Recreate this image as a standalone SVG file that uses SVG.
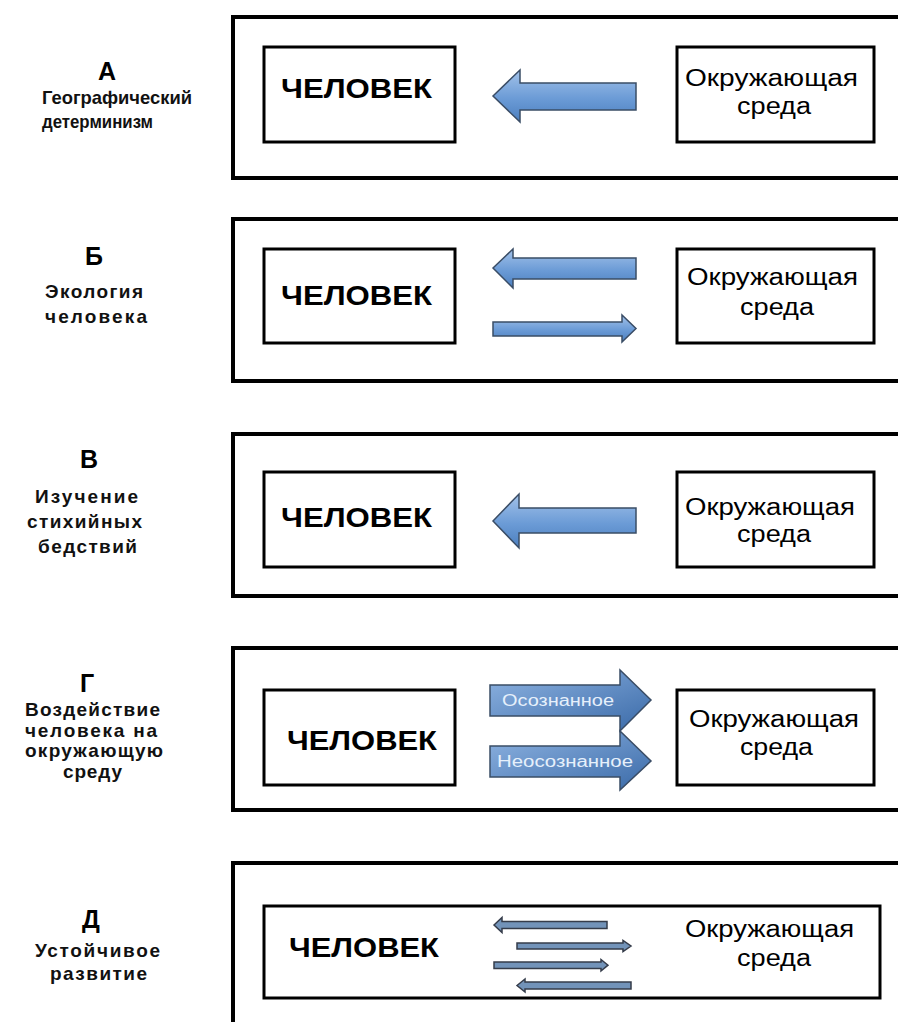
<svg xmlns="http://www.w3.org/2000/svg" width="898" height="1022" viewBox="0 0 898 1022">
<defs>
<linearGradient id="gv" x1="0" y1="0" x2="0" y2="1">
<stop offset="0" stop-color="#a3c2e9"/>
<stop offset="0.55" stop-color="#6b9bd6"/>
<stop offset="1" stop-color="#4c7fbf"/>
</linearGradient>
<linearGradient id="gd" x1="0" y1="0" x2="1" y2="1">
<stop offset="0" stop-color="#8fb4e2"/>
<stop offset="1" stop-color="#3a6aa8"/>
</linearGradient>
<style>
.outer{fill:#fff;stroke:#000;stroke-width:4}
.inner{fill:#fff;stroke:#000;stroke-width:3}
.arr{fill:url(#gv);stroke:#3a4d66;stroke-width:1.5;stroke-linejoin:miter}
.arrg{fill:url(#gd);stroke:#3a4d66;stroke-width:1.5}
.arrd{fill:#7293b9;stroke:#353c4a;stroke-width:1.5}
.man{font-family:"Liberation Sans",Arial,sans-serif;font-weight:bold;font-size:27px;fill:#000}
.env{font-family:"Liberation Sans",Arial,sans-serif;font-size:23px;fill:#000}
.lbl{font-family:"Liberation Sans",Arial,sans-serif;font-weight:bold;font-size:19px;fill:#111}
.big{font-family:"Liberation Sans",Arial,sans-serif;font-weight:bold;font-size:25px;fill:#000;text-anchor:middle}
.atx{font-family:"Liberation Sans",Arial,sans-serif;font-size:16px;fill:#e6f0fb}
</style>
</defs>
<rect width="898" height="1022" fill="#fff"/>

<!-- Panel A -->
<g id="panelA">
<rect class="outer" x="233" y="17" width="680" height="161"/>
<text class="big" x="107" y="80">А</text>
<text class="lbl" x="42" y="104" textLength="150" lengthAdjust="spacingAndGlyphs">Географический</text>
<text class="lbl" x="42" y="128" textLength="111" lengthAdjust="spacingAndGlyphs">детерминизм</text>
</g>
<g id="A-man">
<rect class="inner" x="264" y="47" width="191" height="95"/>
<text class="man" x="281" y="98" textLength="151" lengthAdjust="spacingAndGlyphs">ЧЕЛОВЕК</text>
</g>
<g id="A-env">
<rect class="inner" x="677" y="47" width="197" height="95"/>
<text class="env" x="685" y="86" textLength="173" lengthAdjust="spacingAndGlyphs">Окружающая</text>
<text class="env" x="737" y="114" textLength="74" lengthAdjust="spacingAndGlyphs">среда</text>
</g>

<!-- Panel B -->
<g id="panelB">
<rect class="outer" x="233" y="219" width="680" height="162"/>
<text class="big" x="94" y="265">Б</text>
<text class="lbl" x="45" y="298" textLength="98" lengthAdjust="spacing">Экология</text>
<text class="lbl" x="45" y="323" textLength="102" lengthAdjust="spacing">человека</text>
</g>
<g id="B-man">
<rect class="inner" x="264" y="249" width="191" height="94"/>
<text class="man" x="281" y="305" textLength="151" lengthAdjust="spacingAndGlyphs">ЧЕЛОВЕК</text>
</g>
<g id="B-env">
<rect class="inner" x="677" y="249" width="197" height="94"/>
<text class="env" x="687" y="285" textLength="171" lengthAdjust="spacingAndGlyphs">Окружающая</text>
<text class="env" x="740" y="315" textLength="74" lengthAdjust="spacingAndGlyphs">среда</text>
</g>

<!-- Panel V -->
<g id="panelV">
<rect class="outer" x="233" y="434" width="680" height="162"/>
<text class="big" x="89" y="468">В</text>
<text class="lbl" x="35" y="503" textLength="103" lengthAdjust="spacing">Изучение</text>
<text class="lbl" x="27" y="528" textLength="115" lengthAdjust="spacing">стихийных</text>
<text class="lbl" x="38" y="553" textLength="99" lengthAdjust="spacing">бедствий</text>
</g>
<g id="V-man">
<rect class="inner" x="264" y="472" width="191" height="95"/>
<text class="man" x="281" y="527" textLength="151" lengthAdjust="spacingAndGlyphs">ЧЕЛОВЕК</text>
</g>
<g id="V-env">
<rect class="inner" x="677" y="472" width="197" height="95"/>
<text class="env" x="685" y="515" textLength="170" lengthAdjust="spacingAndGlyphs">Окружающая</text>
<text class="env" x="737" y="542" textLength="74" lengthAdjust="spacingAndGlyphs">среда</text>
</g>

<!-- Panel G -->
<g id="panelG">
<rect class="outer" x="233" y="648" width="680" height="162"/>
<text class="big" x="87" y="692">Г</text>
<text class="lbl" x="25" y="716" textLength="135" lengthAdjust="spacing">Воздействие</text>
<text class="lbl" x="25" y="737" textLength="132" lengthAdjust="spacing">человека на</text>
<text class="lbl" x="25" y="757" textLength="138" lengthAdjust="spacing">окружающую</text>
<text class="lbl" x="63" y="778" textLength="59" lengthAdjust="spacing">среду</text>
</g>
<g id="G-man">
<rect class="inner" x="264" y="690" width="191" height="95"/>
<text class="man" x="287" y="750" textLength="150" lengthAdjust="spacingAndGlyphs">ЧЕЛОВЕК</text>
</g>
<g id="G-env">
<rect class="inner" x="677" y="690" width="197" height="95"/>
<text class="env" x="689" y="727" textLength="170" lengthAdjust="spacingAndGlyphs">Окружающая</text>
<text class="env" x="740" y="755" textLength="73" lengthAdjust="spacingAndGlyphs">среда</text>
</g>

<!-- Panel D -->
<g id="panelD">
<rect class="outer" x="233" y="863" width="680" height="180"/>
<text class="big" x="91" y="928">Д</text>
<text class="lbl" x="35" y="957" textLength="125" lengthAdjust="spacing">Устойчивое</text>
<text class="lbl" x="50" y="980" textLength="97" lengthAdjust="spacing">развитие</text>
</g>
<g id="D-system">
<rect class="inner" x="264" y="906" width="616" height="92"/>
<text class="man" x="289" y="957" textLength="150" lengthAdjust="spacingAndGlyphs">ЧЕЛОВЕК</text>
<text class="env" x="685" y="937" textLength="169" lengthAdjust="spacingAndGlyphs">Окружающая</text>
<text class="env" x="737" y="966" textLength="74" lengthAdjust="spacingAndGlyphs">среда</text>
</g>

<!-- Connectors -->
<g id="connectors">
<path class="arr" d="M493,96 L520,70 L520,83 L636,83 L636,110 L520,110 L520,122 Z"/>
<path class="arr" d="M493,268 L513,249 L513,258 L636,258 L636,279 L513,279 L513,288 Z"/>
<path class="arr" d="M493,322 L622,322 L622,315 L636,328.5 L622,342 L622,336 L493,336 Z"/>
<path class="arr" d="M493,521 L519,494 L519,508 L636,508 L636,533 L519,533 L519,548 Z"/>
<path class="arrg" d="M490,685 L620,685 L620,670 L651,700 L620,731 L620,716 L490,716 Z"/>
<path class="arrg" d="M490,746 L620,746 L620,731 L651,761 L620,790 L620,777 L490,777 Z"/>
<text class="atx" x="502" y="706" textLength="112" lengthAdjust="spacingAndGlyphs">Осознанное</text>
<text class="atx" x="497" y="767" textLength="136" lengthAdjust="spacingAndGlyphs">Неосознанное</text>
<path class="arrd" d="M494,925 L502,917.5 L502,921.5 L607,921.5 L607,928.5 L502,928.5 L502,932.5 Z"/>
<path class="arrd" d="M517,943 L623,943 L623,940.5 L631,946 L623,951.5 L623,949 L517,949 Z"/>
<path class="arrd" d="M494,962 L601,962 L601,959.5 L608,965.2 L601,971 L601,968.5 L494,968.5 Z"/>
<path class="arrd" d="M517,985.5 L525,979 L525,982 L631,982 L631,989 L525,989 L525,992 Z"/>
</g>
</svg>
